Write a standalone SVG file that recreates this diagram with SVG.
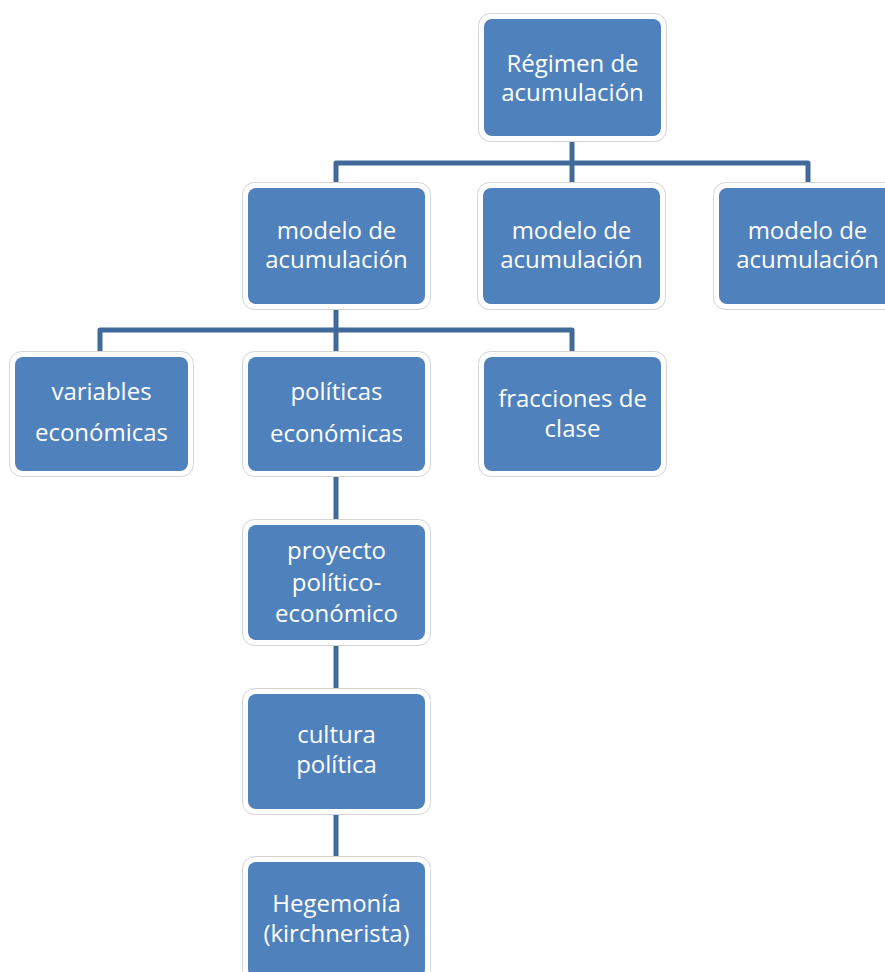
<svg xmlns="http://www.w3.org/2000/svg" width="885" height="972" viewBox="0 0 885 972">
<style>
.frame{fill:#ffffff;stroke:#d4d4d4;stroke-width:1}
.box{fill:#4F81BD}
.t{font-family:"Open Sans","Noto Sans",sans-serif;font-size:24px;fill:#ffffff;text-anchor:middle}
.conn{fill:none;stroke:#41699A;stroke-width:5;stroke-linejoin:round}
</style>
<rect width="885" height="972" fill="#ffffff"/>
<g id="connectors">
<path class="conn" d="M572,138 V188 M336,188 V163 H808 V188"/>
<path class="conn" d="M336,303 V357 M100,357 V330 H572 V357"/>
<path class="conn" d="M336,470 V525 M336,640 V694 M336,809 V862"/>
</g>
<g id="regimen">
<rect class="frame" x="478.5" y="13.5" width="188" height="128" rx="12"/>
<rect class="box" x="484" y="19" width="177" height="117" rx="8"/>
<text class="t" x="572.5" y="72">Régimen de</text>
<text class="t" x="572.5" y="101">acumulación</text>
</g>
<g id="modelo1">
<rect class="frame" x="242.5" y="182.5" width="188" height="127" rx="12"/>
<rect class="box" x="248" y="188" width="177" height="116" rx="8"/>
<text class="t" x="336.5" y="239">modelo de</text>
<text class="t" x="336.5" y="268">acumulación</text>
</g>
<g id="modelo2">
<rect class="frame" x="477.5" y="182.5" width="188" height="127" rx="12"/>
<rect class="box" x="483" y="188" width="177" height="116" rx="8"/>
<text class="t" x="571.5" y="239">modelo de</text>
<text class="t" x="571.5" y="268">acumulación</text>
</g>
<g id="modelo3">
<rect class="frame" x="713.5" y="182.5" width="188" height="127" rx="12"/>
<rect class="box" x="719" y="188" width="177" height="116" rx="8"/>
<text class="t" x="807.5" y="239">modelo de</text>
<text class="t" x="807.5" y="268">acumulación</text>
</g>
<g id="variables">
<rect class="frame" x="9.5" y="351.5" width="184" height="125" rx="12"/>
<rect class="box" x="15" y="357" width="173" height="114" rx="8"/>
<text class="t" x="101.5" y="400">variables</text>
<text class="t" x="101.5" y="441">económicas</text>
</g>
<g id="politicas">
<rect class="frame" x="242.5" y="351.5" width="188" height="125" rx="12"/>
<rect class="box" x="248" y="357" width="177" height="114" rx="8"/>
<text class="t" x="336.5" y="400">políticas</text>
<text class="t" x="336.5" y="442">económicas</text>
</g>
<g id="fracciones">
<rect class="frame" x="478.5" y="351.5" width="188" height="125" rx="12"/>
<rect class="box" x="484" y="357" width="177" height="114" rx="8"/>
<text class="t" x="572.5" y="407">fracciones de</text>
<text class="t" x="572.5" y="437">clase</text>
</g>
<g id="proyecto">
<rect class="frame" x="242.5" y="519.5" width="188" height="126" rx="12"/>
<rect class="box" x="248" y="525" width="177" height="115" rx="8"/>
<text class="t" x="336.5" y="559">proyecto</text>
<text class="t" x="336.5" y="591">político-</text>
<text class="t" x="336.5" y="622">económico</text>
</g>
<g id="cultura">
<rect class="frame" x="242.5" y="688.5" width="188" height="126" rx="12"/>
<rect class="box" x="248" y="694" width="177" height="115" rx="8"/>
<text class="t" x="336.5" y="743">cultura</text>
<text class="t" x="336.5" y="773">política</text>
</g>
<g id="hegemonia">
<rect class="frame" x="242.5" y="856.5" width="188" height="126" rx="12"/>
<rect class="box" x="248" y="862" width="177" height="115" rx="8"/>
<text class="t" x="336.5" y="912">Hegemonía</text>
<text class="t" x="336.5" y="942">(kirchnerista)</text>
</g>
</svg>
